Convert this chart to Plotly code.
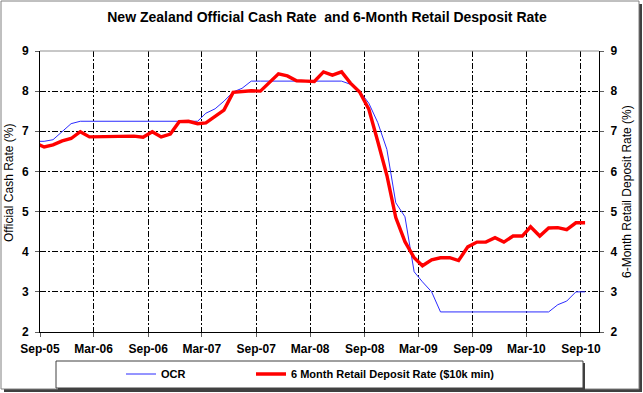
import pandas as pd
import plotly.graph_objects as go

# ---------------- data ----------------
months = pd.date_range("2005-08-01", "2010-09-01", freq="MS") + pd.Timedelta(days=14)

ocr = [6.75, 6.75, 6.79, 7.00, 7.19,
       7.25, 7.25, 7.25, 7.25, 7.25, 7.25, 7.25, 7.25, 7.25, 7.25, 7.25, 7.25,
       7.25, 7.25, 7.45, 7.56, 7.75, 7.98, 8.07, 8.25, 8.25, 8.25, 8.25, 8.25,
       8.25, 8.25, 8.25, 8.25, 8.25, 8.25, 8.17, 8.00, 7.70, 7.22, 6.55, 5.22,
       4.87, 3.50, 3.25, 3.00, 2.50, 2.50, 2.50, 2.50, 2.50, 2.50, 2.50, 2.50,
       2.50, 2.50, 2.50, 2.50, 2.50, 2.68, 2.77, 3.00, 3.00]

deposit = [6.71, 6.61, 6.66, 6.76, 6.82,
           6.99, 6.86, 6.86, 6.86, 6.87, 6.88, 6.88, 6.85, 6.99, 6.86, 6.93, 7.24,
           7.25, 7.19, 7.21, 7.37, 7.53, 7.97, 7.99, 8.01, 8.00, 8.22, 8.43, 8.38,
           8.26, 8.25, 8.24, 8.48, 8.40, 8.48, 8.20, 7.98, 7.55, 6.75, 5.90, 4.85,
           4.25, 3.85, 3.65, 3.80, 3.85, 3.85, 3.78, 4.12, 4.24, 4.24, 4.35, 4.24,
           4.39, 4.39, 4.62, 4.39, 4.59, 4.60, 4.55, 4.72, 4.72]

tick_dates = ["2005-09-01", "2006-03-01", "2006-09-01", "2007-03-01", "2007-09-01",
              "2008-03-01", "2008-09-01", "2009-03-01", "2009-09-01", "2010-03-01",
              "2010-09-01"]
tick_labels = ["Sep-05", "Mar-06", "Sep-06", "Mar-07", "Sep-07", "Mar-08",
               "Sep-08", "Mar-09", "Sep-09", "Mar-10", "Sep-10"]
y_ticks = [2, 3, 4, 5, 6, 7, 8, 9]

title_text = "New Zealand Official Cash Rate  and 6-Month Retail Desposit Rate"
left_title = "Official Cash Rate (%)"
right_title = "6-Month Retail Deposit Rate (%)"
name_ocr = "OCR"
name_dep = "6 Month Retail Deposit Rate ($10k min)"

# ---------------- layout geometry ----------------
W, H = 643, 393
ML, MR, MT, MB = 40, 44, 51, 61
PW, PH = W - ML - MR, H - MT - MB
FONT = "Liberation Sans, Arial, sans-serif"


def px(x):
    return (x - ML) / PW


def py(y):
    return (H - MB - y) / PH


fig = go.Figure()
fig.add_trace(go.Scatter(x=months, y=ocr, name=name_ocr, mode="lines",
                         line=dict(color="#2b2bff", width=1), yaxis="y",
                         legend="legend"))
fig.add_trace(go.Scatter(x=months, y=deposit, name=name_dep, mode="lines",
                         line=dict(color="#ff0000", width=3.4), yaxis="y2",
                         legend="legend2"))

tickfont = dict(family=FONT, size=12, color="black", weight="bold")
grid_dash = "6px,2px,2px,2px"
legfont = dict(family=FONT, size=11, color="black", weight="bold")

fig.update_layout(
    width=W, height=H,
    margin=dict(l=ML, r=MR, t=MT, b=MB, autoexpand=False),
    paper_bgcolor="white", plot_bgcolor="white",
    title=dict(text="<b>" + title_text + "</b>", x=327 / W, xanchor="center",
               y=1 - 17 / H, yanchor="middle", yref="container", xref="container",
               font=dict(family=FONT, size=14, color="black")),
    xaxis=dict(type="date", range=["2005-09-01", "2010-11-01"],
               tickvals=tick_dates, ticktext=tick_labels, tickfont=tickfont,
               showgrid=True, gridcolor="black", gridwidth=1, griddash=grid_dash,
               showline=True, linecolor="black", linewidth=1,
               ticks="outside", ticklen=4, tickcolor="#606060",
               ticklabelstandoff=2, zeroline=False),
    yaxis=dict(range=[2, 9], tickvals=y_ticks, tickfont=tickfont,
               showgrid=True, gridcolor="black", gridwidth=1, griddash=grid_dash,
               showline=True, linecolor="black", linewidth=1,
               ticks="outside", ticklen=4, tickcolor="#606060",
               ticklabelstandoff=4, zeroline=False),
    yaxis2=dict(range=[2, 9], tickvals=y_ticks, tickfont=tickfont,
                overlaying="y", side="right", showgrid=False,
                showline=True, linecolor="black", linewidth=1,
                ticks="outside", ticklen=4, tickcolor="#606060",
                ticklabelstandoff=4, zeroline=False),
    legend=dict(orientation="h", x=px(121), xanchor="left", y=py(374), yanchor="middle",
                bgcolor="rgba(0,0,0,0)", borderwidth=0, font=legfont),
    legend2=dict(orientation="h", x=px(251), xanchor="left", y=py(374), yanchor="middle",
                 bgcolor="rgba(0,0,0,0)", borderwidth=0, font=legfont),
    showlegend=True,
)

shapes = []
# outer chart border with shadow
shapes.append(dict(type="rect", xref="paper", yref="paper",
                   x0=px(4), x1=px(642), y0=py(4), y1=py(392),
                   line=dict(width=0), fillcolor="#404040", layer="below"))
shapes.append(dict(type="rect", xref="paper", yref="paper",
                   x0=px(1), x1=px(639), y0=py(1), y1=py(389),
                   line=dict(color="#808080", width=1), fillcolor="white", layer="below"))
# legend box with shadow
shapes.append(dict(type="rect", xref="paper", yref="paper",
                   x0=px(58), x1=px(585), y0=py(363), y1=py(390),
                   line=dict(width=0), fillcolor="#404040", layer="below"))
shapes.append(dict(type="rect", xref="paper", yref="paper",
                   x0=px(56), x1=px(583), y0=py(361), y1=py(388),
                   line=dict(color="#404040", width=1), fillcolor="white", layer="below"))
# plot area top border (gray)
shapes.append(dict(type="line", xref="paper", yref="paper", x0=0, x1=1, y0=1, y1=1,
                   line=dict(color="#909090", width=1)))
fig.update_layout(shapes=shapes)

fig.add_annotation(text=left_title, textangle=-90, xref="paper", yref="paper",
                   x=px(9), y=py(183), xanchor="center", yanchor="middle",
                   showarrow=False, font=dict(family=FONT, size=12, color="black"))
fig.add_annotation(text=right_title, textangle=-90, xref="paper", yref="paper",
                   x=px(627), y=py(192), xanchor="center", yanchor="middle",
                   showarrow=False, font=dict(family=FONT, size=12, color="black"))

fig.write_html("out.html", config={"displayModeBar": False},
               post_script="document.body.style.margin='0px';document.body.style.padding='0px';")
